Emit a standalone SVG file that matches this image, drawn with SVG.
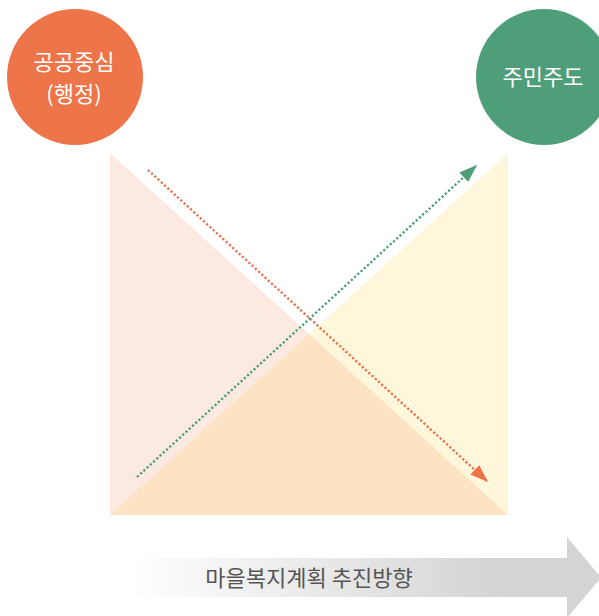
<svg xmlns="http://www.w3.org/2000/svg" width="599" height="616" viewBox="0 0 599 616">
<style>
.lbl{font-family:"Noto Sans CJK KR","Noto Sans",sans-serif;font-size:22px;fill:#ffffff;text-anchor:middle}
.dir{font-family:"Noto Sans CJK KR","Noto Sans",sans-serif;font-size:22px;fill:#555555;text-anchor:middle}
.dotO{fill:none;stroke:#E96F47;stroke-width:2.3;stroke-dasharray:2.2 2.2}
.dotG{fill:none;stroke:#4A9B76;stroke-width:2.3;stroke-dasharray:2.2 2.2}
</style>
<defs>
<marker id="arrO" markerUnits="userSpaceOnUse" markerWidth="20" markerHeight="14" refX="18" refY="6.5" orient="auto" viewBox="0 0 20 13">
<path d="M0,0 L18,6.5 L0,13 Z" fill="#EE7248"/>
</marker>
<marker id="arrG" markerUnits="userSpaceOnUse" markerWidth="20" markerHeight="14" refX="18" refY="6.5" orient="auto" viewBox="0 0 20 13">
<path d="M0,0 L18,6.5 L0,13 Z" fill="#4E9E7A"/>
</marker>
<linearGradient id="grayGrad" x1="128" y1="0" x2="500" y2="0" gradientUnits="userSpaceOnUse">
<stop offset="0" stop-color="#ffffff"/>
<stop offset="1" stop-color="#d4d4d4"/>
</linearGradient>
</defs>

<g id="background">
<polygon points="110,153 110,515 508,515" fill="#FCE9E2"/>
<polygon points="508,153 508,515 110,515" fill="#FEF7DB"/>
<polygon points="110,515 508,515 309,334" fill="#FBE3C3"/>
</g>

<g id="node-public">
<circle cx="75" cy="77" r="68" fill="#EE744A"/>
<text class="lbl" x="74" y="70">공공중심</text>
<text class="lbl" x="74" y="102">(행정)</text>
</g>

<g id="node-resident">
<circle cx="544" cy="77" r="68" fill="#4F9E7A"/>
<text class="lbl" x="543" y="85">주민주도</text>
</g>

<g id="connectors">
<line class="dotO" x1="148" y1="170" x2="488" y2="482" marker-end="url(#arrO)"/>
<line class="dotG" x1="137" y1="477" x2="477" y2="165" marker-end="url(#arrG)"/>
</g>

<g id="direction">
<path d="M128,558 L567,558 L567,537 L601,577.5 L567,618 L567,597 L128,597 Z" fill="url(#grayGrad)"/>
<text class="dir" x="309" y="586">마을복지계획 추진방향</text>
</g>
</svg>
